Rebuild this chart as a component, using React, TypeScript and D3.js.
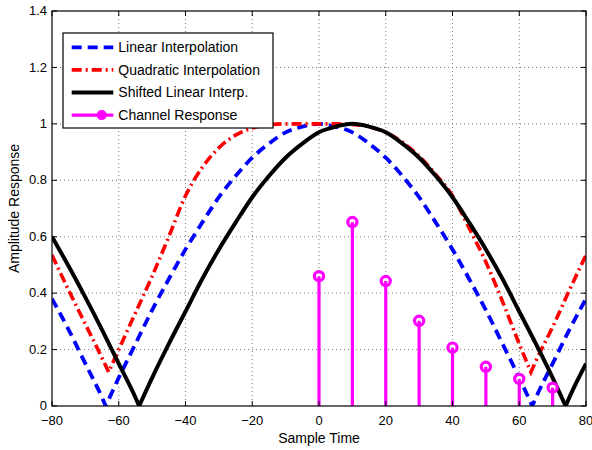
import React, { useEffect, useRef } from 'react';
import * as d3 from 'd3';

// axis ticks
const xTicks = [-80, -60, -40, -20, 0, 20, 40, 60, 80];
const yTicks = [0, 0.2, 0.4, 0.6, 0.8, 1, 1.2, 1.4];

// Linear Interpolation (blue dashed)
const linearX = [-80, -75, -70, -65, -63.9, -60, -55, -50, -45, -40, -35, -30, -25, -20, -15, -10, -5, 0, 5, 10, 15, 20, 25, 30, 35, 40, 45, 50, 55, 60, 63.9, 65, 70, 75, 80];
const linearY = [0.38, 0.27, 0.15, 0.03, 0, 0.1, 0.22, 0.34, 0.45, 0.555, 0.65, 0.74, 0.815, 0.88, 0.93, 0.97, 0.99, 1, 0.99, 0.97, 0.93, 0.88, 0.815, 0.74, 0.65, 0.555, 0.45, 0.34, 0.22, 0.1, 0, 0.03, 0.15, 0.27, 0.38];

// Quadratic Interpolation (red dash-dot)
const quadX = [-80, -75, -70, -65, -63, -60, -55, -50, -45, -40, -35, -30, -25, -20, -15, -10, -5, 0, 5, 10, 15, 20, 25, 30, 35, 40, 45, 50, 55, 60, 63.5, 65, 70, 75, 80];
const quadY = [0.535, 0.41, 0.29, 0.17, 0.12, 0.2, 0.33, 0.46, 0.6, 0.745, 0.845, 0.915, 0.96, 0.985, 0.997, 1, 1, 1, 1, 0.998, 0.99, 0.97, 0.935, 0.885, 0.82, 0.745, 0.63, 0.51, 0.37, 0.22, 0.12, 0.16, 0.28, 0.41, 0.535];

// Shifted Linear Interp. (black solid)
const shiftX = [-80, -75, -70, -65, -60, -55, -53.9, -50, -45, -40, -35, -30, -25, -20, -15, -10, -5, 0, 5, 10, 15, 20, 25, 30, 35, 40, 45, 50, 55, 60, 65, 70, 73.9, 75, 80];
const shiftY = [0.6, 0.495, 0.385, 0.27, 0.15, 0.03, 0, 0.1, 0.22, 0.335, 0.45, 0.555, 0.65, 0.74, 0.815, 0.88, 0.93, 0.97, 0.99, 1, 0.99, 0.97, 0.93, 0.88, 0.815, 0.74, 0.65, 0.555, 0.45, 0.335, 0.22, 0.1, 0, 0.03, 0.15];

// Channel Response (magenta stems)
const stemX = [0, 10, 20, 30, 40, 50, 60, 70];
const stemY = [0.46, 0.652, 0.443, 0.302, 0.207, 0.139, 0.096, 0.065];

const legendLabels = ['Linear Interpolation', 'Quadratic Interpolation', 'Shifted Linear Interp.', 'Channel Response'];

const WIDTH = 592;
const HEIGHT = 450;
const FONT = '"Liberation Sans", Arial, Helvetica, sans-serif';

export default function App() {
  const svgRef = useRef<SVGSVGElement>(null);

  useEffect(() => {
    const svg = d3.select(svgRef.current);
    svg.selectAll('*').remove();

    const margin = { top: 11, right: 6, bottom: 44, left: 52 };
    const innerWidth = WIDTH - margin.left - margin.right;
    const innerHeight = HEIGHT - margin.top - margin.bottom;

    const x = d3.scaleLinear().domain([-80, 80]).range([0, innerWidth]);
    const y = d3.scaleLinear().domain([0, 1.4]).range([innerHeight, 0]);

    svg.append('rect').attr('width', WIDTH).attr('height', HEIGHT).attr('fill', '#fff');

    const g = svg.append('g').attr('transform', `translate(${margin.left},${margin.top})`);

    g.append('clipPath').attr('id', 'plot-clip')
      .append('rect').attr('width', innerWidth).attr('height', innerHeight);

    // dotted grid
    const grid = g.append('g').attr('stroke', '#7a7a7a').attr('stroke-width', 1).attr('stroke-dasharray', '1,3');
    xTicks.slice(1, -1).forEach(t => {
      grid.append('line').attr('x1', x(t)).attr('x2', x(t)).attr('y1', 0).attr('y2', innerHeight);
    });
    yTicks.slice(1, -1).forEach(t => {
      grid.append('line').attr('x1', 0).attr('x2', innerWidth).attr('y1', y(t)).attr('y2', y(t));
    });

    // split series at the sharp minima so the curve keeps its V shape
    const buildPath = (xs: number[], ys: number[]) => {
      const pts: [number, number][] = xs.map((d, i) => [d, ys[i]]);
      const breaks = [0];
      for (let i = 1; i < pts.length - 1; i++) {
        if (pts[i][1] < pts[i - 1][1] && pts[i][1] < pts[i + 1][1]) breaks.push(i);
      }
      breaks.push(pts.length - 1);
      const line = d3.line<[number, number]>()
        .x(d => x(d[0]))
        .y(d => y(d[1]))
        .curve(d3.curveMonotoneX);
      let path = '';
      for (let k = 0; k < breaks.length - 1; k++) {
        const seg = line(pts.slice(breaks[k], breaks[k + 1] + 1)) || '';
        path += k === 0 ? seg : 'L' + seg.slice(1);
      }
      return path;
    };

    const curves = g.append('g').attr('clip-path', 'url(#plot-clip)');

    curves.append('path')
      .attr('d', buildPath(linearX, linearY))
      .attr('fill', 'none')
      .attr('stroke', '#0000ff')
      .attr('stroke-width', 3.8)
      .attr('stroke-dasharray', '10,6');

    curves.append('path')
      .attr('d', buildPath(quadX, quadY))
      .attr('fill', 'none')
      .attr('stroke', '#ff0000')
      .attr('stroke-width', 3.6)
      .attr('stroke-dasharray', '10,4,2,4');

    curves.append('path')
      .attr('d', buildPath(shiftX, shiftY))
      .attr('fill', 'none')
      .attr('stroke', '#000')
      .attr('stroke-width', 4)
      .attr('stroke-linejoin', 'round');

    // stems
    const stems = g.append('g');
    stemX.forEach((sx, i) => {
      stems.append('circle')
        .attr('cx', x(sx)).attr('cy', y(stemY[i])).attr('r', 4.6)
        .attr('fill', '#fff').attr('stroke', '#ff00ff').attr('stroke-width', 3.2);
      stems.append('line')
        .attr('x1', x(sx)).attr('x2', x(sx))
        .attr('y1', y(0)).attr('y2', y(stemY[i]))
        .attr('stroke', '#ff00ff').attr('stroke-width', 3.2);
    });

    // box and ticks
    g.append('rect')
      .attr('width', innerWidth).attr('height', innerHeight)
      .attr('fill', 'none').attr('stroke', '#000').attr('stroke-width', 1.2);

    const tickLen = 5;
    const ticks = g.append('g').attr('stroke', '#000').attr('stroke-width', 1);
    xTicks.forEach(t => {
      ticks.append('line').attr('x1', x(t)).attr('x2', x(t)).attr('y1', innerHeight).attr('y2', innerHeight - tickLen);
      ticks.append('line').attr('x1', x(t)).attr('x2', x(t)).attr('y1', 0).attr('y2', tickLen);
    });
    yTicks.forEach(t => {
      ticks.append('line').attr('x1', 0).attr('x2', tickLen).attr('y1', y(t)).attr('y2', y(t));
      ticks.append('line').attr('x1', innerWidth).attr('x2', innerWidth - tickLen).attr('y1', y(t)).attr('y2', y(t));
    });

    // tick labels
    g.append('g').selectAll('text')
      .data(xTicks).enter().append('text')
      .attr('x', d => x(d)).attr('y', innerHeight + 18.5)
      .attr('text-anchor', 'middle')
      .attr('font-family', FONT).attr('font-size', '13px').attr('fill', '#000')
      .text(d => (d < 0 ? '\u2212' + Math.abs(d) : String(d)));

    g.append('g').selectAll('text')
      .data(yTicks).enter().append('text')
      .attr('x', -5).attr('y', d => y(d)).attr('dy', '0.32em')
      .attr('text-anchor', 'end')
      .attr('font-family', FONT).attr('font-size', '13px').attr('fill', '#000')
      .text(d => String(d));

    // axis labels
    g.append('text')
      .attr('x', innerWidth / 2).attr('y', innerHeight + 36.5)
      .attr('text-anchor', 'middle')
      .attr('font-family', FONT).attr('font-size', '14px').attr('fill', '#000')
      .text('Sample Time');

    g.append('text')
      .attr('transform', 'rotate(-90)')
      .attr('x', -innerHeight / 2).attr('y', -33)
      .attr('text-anchor', 'middle')
      .attr('font-family', FONT).attr('font-size', '14px').attr('fill', '#000')
      .text('Amplitude Response');

    // legend
    const legend = g.append('g').attr('transform', 'translate(11,22)');
    legend.append('rect')
      .attr('width', 210).attr('height', 95)
      .attr('fill', '#fff').attr('stroke', '#000').attr('stroke-width', 1.2);

    const rowY = (i: number) => 14.3 + i * 22.6;
    const styles = [
      { stroke: '#0000ff', width: 3.8, dash: '10,6' },
      { stroke: '#ff0000', width: 3.6, dash: '10,4,2,4' },
      { stroke: '#000', width: 4, dash: null },
      { stroke: '#ff00ff', width: 3.2, dash: null },
    ];
    legendLabels.forEach((label, i) => {
      const s = styles[i];
      const ln = legend.append('line')
        .attr('x1', 8.7).attr('x2', 50.3)
        .attr('y1', rowY(i)).attr('y2', rowY(i))
        .attr('stroke', s.stroke).attr('stroke-width', s.width);
      if (s.dash) ln.attr('stroke-dasharray', s.dash);
      if (i === 3) {
        legend.append('circle')
          .attr('cx', 38.7).attr('cy', rowY(i)).attr('r', 5)
          .attr('fill', '#ff00ff');
      }
      legend.append('text')
        .attr('x', 55.3).attr('y', rowY(i)).attr('dy', '0.35em')
        .attr('font-family', FONT).attr('font-size', '14px').attr('fill', '#000')
        .text(label);
    });
  }, []);

  return (
    <svg
      ref={svgRef}
      width={WIDTH}
      height={HEIGHT}
      style={{ position: 'absolute', left: 0, top: 0 }}
    />
  );
}
